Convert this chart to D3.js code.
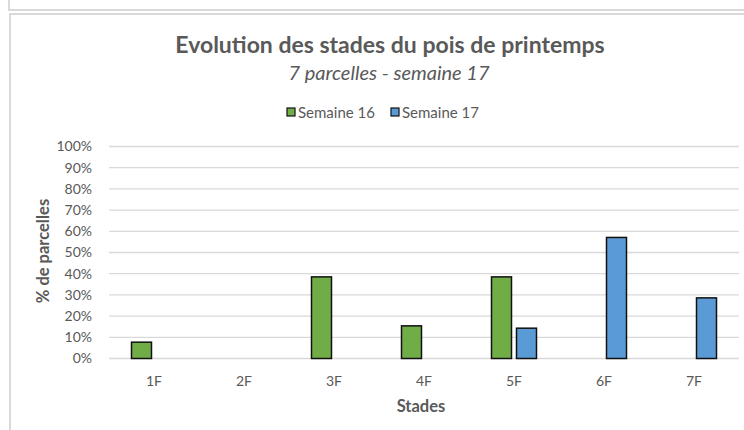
<!DOCTYPE html>
<head>
<meta charset="utf-8">
<title>Evolution des stades du pois de printemps</title>
<script src="https://cdn.jsdelivr.net/npm/d3@7"></script>
<style>
  body { margin: 0; background: #fff; }
  text { font-family: Lato, "Open Sans", sans-serif; }
</style>
</head>
<body>
<div id="chart"></div>
<script>
// stades and % of parcels per week
const stades = ["1F", "2F", "3F", "4F", "5F", "6F", "7F"];
const series = ["Semaine 16", "Semaine 17"];
const semaine16 = [7.7, 0, 38.5, 15.4, 38.5, 0, 0];
const semaine17 = [0, 0, 0, 0, 14.3, 57.1, 28.6];
const yTicks = [0, 10, 20, 30, 40, 50, 60, 70, 80, 90, 100];
const colors = ["#70AD47", "#5B9BD5"];

const W = 744, H = 430;
const plot = { left: 109, right: 739, top: 146.5, bottom: 358.5 };

const svg = d3.select("#chart").append("svg")
  .attr("width", W).attr("height", H);

// frame borders (screenshot of a sheet)
svg.append("path").attr("fill", "none").attr("stroke", "#d9d9d9").attr("stroke-width", 2)
  .attr("d", "M9,0V10H744");
svg.append("path").attr("fill", "none").attr("stroke", "#d9d9d9").attr("stroke-width", 2)
  .attr("d", "M744,14H10V430");

const x0 = d3.scaleBand().domain(stades).range([plot.left, plot.right])
  .paddingInner(0.5).paddingOuter(0.25);
const x1 = d3.scaleBand().domain(series).range([0, x0.bandwidth()]).paddingInner(0.2);
const y = d3.scaleLinear().domain([0, 100]).range([plot.bottom, plot.top]);

// gridlines
svg.append("g").selectAll("line").data(yTicks).join("line")
  .attr("x1", plot.left).attr("x2", plot.right)
  .attr("y1", d => y(d)).attr("y2", d => y(d))
  .attr("stroke", "#d9d9d9").attr("stroke-width", 1.3);

// y labels
const yAxis = svg.append("g").attr("transform", `translate(${plot.left - 14},0)`)
  .call(d3.axisLeft(y).tickValues(yTicks).tickFormat(d => d + "%").tickSize(0));
yAxis.select(".domain").remove();
yAxis.selectAll("text").attr("fill", "#595959").style("font-size", "14px")
  .style("font-family", "Lato, sans-serif");

// x labels
const xAxis = svg.append("g").attr("transform", `translate(0,${plot.bottom + 15})`)
  .call(d3.axisBottom(x0).tickSize(0));
xAxis.select(".domain").remove();
xAxis.selectAll("text").attr("fill", "#595959").style("font-size", "14px")
  .style("font-family", "Lato, sans-serif");

// bars
const rows = stades.map((s, i) => ({ stade: s, values: [semaine16[i], semaine17[i]] }));
svg.append("g").selectAll("g").data(rows).join("g")
  .attr("transform", d => `translate(${x0(d.stade)},0)`)
  .selectAll("rect")
  .data(d => d.values.map((v, k) => ({ serie: series[k], v, k })).filter(d => d.v > 0))
  .join("rect")
  .attr("x", d => x1(d.serie))
  .attr("width", x1.bandwidth())
  .attr("y", d => y(d.v))
  .attr("height", d => y(0) - y(d.v))
  .attr("fill", d => colors[d.k])
  .attr("stroke", "#111").attr("stroke-width", 1.5);

// titles
svg.append("text").attr("x", 390).attr("y", 53).attr("text-anchor", "middle")
  .attr("fill", "#595959").style("font-size", "23px").style("font-weight", "bold")
  .text("Evolution des stades du pois de printemps");
svg.append("text").attr("x", 389).attr("y", 80).attr("text-anchor", "middle")
  .attr("fill", "#595959").style("font-size", "20px").style("font-style", "italic")
  .text("7 parcelles - semaine 17");

// legend
const legX = [287, 391];
const leg = svg.append("g").selectAll("g").data(series).join("g")
  .attr("transform", (d, i) => `translate(${legX[i]},112)`);
leg.append("rect").attr("x", 0).attr("y", -4).attr("width", 8).attr("height", 8)
  .attr("fill", (d, i) => colors[i]).attr("stroke", "#111").attr("stroke-width", 1.2);
leg.append("text").attr("x", 11).attr("y", 5.5).attr("fill", "#595959")
  .style("font-size", "15px").text(d => d);

// axis titles
svg.append("text").attr("transform", "translate(49,251) rotate(-90)")
  .attr("text-anchor", "middle").attr("fill", "#595959")
  .style("font-size", "16.5px").style("font-weight", "bold").text("% de parcelles");
svg.append("text").attr("x", 421).attr("y", 412).attr("text-anchor", "middle")
  .attr("fill", "#595959").style("font-size", "16.5px").style("font-weight", "bold")
  .text("Stades");
</script>
</body>
</html>
